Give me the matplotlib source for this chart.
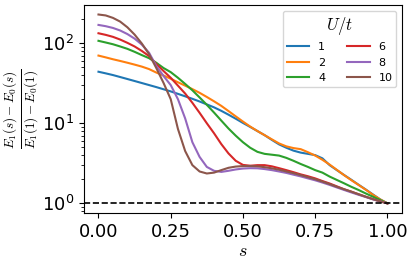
"""Normalised gap E1-E0 along the interpolation path s for several U/t."""
import matplotlib
matplotlib.use("Agg")
import matplotlib.pyplot as plt

s = [0.0, 0.025, 0.05, 0.075, 0.1, 0.125, 0.15, 0.175, 0.2, 0.225,
     0.25, 0.275, 0.3, 0.325, 0.35, 0.375, 0.4, 0.425, 0.45, 0.475,
     0.5, 0.525, 0.55, 0.575, 0.6, 0.625, 0.65, 0.675, 0.7, 0.725,
     0.75, 0.775, 0.8, 0.825, 0.85, 0.875, 0.9, 0.925, 0.95, 0.975, 1.0]

gap_u1 = [44, 42, 40, 37.8, 35.7, 33.7, 31.8, 30, 28.3, 26.6,
          25, 23.3, 21.7, 20.2, 18.7, 17.2, 15.8, 14.3, 12.8, 11.4,
          10.1, 9.0, 8.0, 7.1, 6.2, 5.45, 4.95, 4.55, 4.3, 4.15,
          4.0, 3.65, 3.0, 2.6, 2.26, 1.97, 1.71, 1.49, 1.29, 1.12, 1.0]
gap_u2 = [70, 66.5, 63, 60, 57, 54, 51, 47.5, 43, 39.5,
          36, 32.5, 29.5, 26.7, 24, 21.3, 18.8, 16.5, 14.2, 12.2,
          10.5, 9.1, 8.0, 7.1, 6.3, 5.6, 5.15, 4.9, 4.75, 4.35,
          3.95, 3.5, 3.05, 2.62, 2.25, 1.95, 1.70, 1.48, 1.28, 1.12, 1.0]
gap_u4 = [107, 102, 97, 91, 85, 78, 71, 65, 57, 49,
          43.5, 37, 31, 25.8, 21, 17, 13.6, 10.8, 8.6, 7.0,
          5.8, 4.95, 4.4, 4.15, 4.05, 3.95, 3.7, 3.4, 3.1, 2.85,
          2.6, 2.42, 2.16, 1.96, 1.78, 1.61, 1.47, 1.33, 1.21, 1.1, 1.0]
gap_u6 = [133, 127, 120, 111, 101, 91, 80, 69, 55, 45,
          37, 29.5, 23.5, 18, 13.5, 10, 7.5, 5.5, 4.2, 3.4,
          3.02, 2.95, 3.0, 3.0, 2.9, 2.75, 2.6, 2.45, 2.3, 2.18,
          2.05, 1.9, 1.77, 1.63, 1.5, 1.4, 1.3, 1.21, 1.13, 1.06, 1.0]
gap_u8 = [169, 163, 155, 144, 130, 114, 96, 76, 52, 39,
          30, 20, 11.5, 5.8, 3.8, 2.85, 2.55, 2.47, 2.55, 2.65,
          2.72, 2.75, 2.74, 2.68, 2.6, 2.5, 2.4, 2.28, 2.17, 2.05,
          1.94, 1.82, 1.7, 1.58, 1.47, 1.37, 1.28, 1.2, 1.12, 1.06, 1.0]
gap_u10 = [228, 222, 207, 186, 158, 128, 99, 73, 49, 32,
           20, 8.5, 4.5, 3.0, 2.5, 2.36, 2.42, 2.6, 2.78, 2.88,
           2.92, 2.93, 2.9, 2.83, 2.74, 2.63, 2.5, 2.38, 2.25, 2.12,
           2.0, 1.87, 1.74, 1.61, 1.5, 1.4, 1.3, 1.21, 1.13, 1.06, 1.0]

u_labels = ["1", "2", "4", "6", "8", "10"]
series = [gap_u1, gap_u2, gap_u4, gap_u6, gap_u8, gap_u10]

fig = plt.figure(figsize=(4.16, 2.67), dpi=100)
ax = fig.add_axes([0.202, 0.203, 0.764, 0.778])

for label, gap in zip(u_labels, series):
    ax.plot(s, gap, label=label, linewidth=1.5)

ax.axhline(1.0, color="black", linestyle="--", linewidth=1.2)
ax.set_yscale("log")

ax.tick_params(axis="both", labelsize=13)
ax.set_xticks([0.0, 0.25, 0.5, 0.75, 1.0])
ax.set_xticklabels(["0.00", "0.25", "0.50", "0.75", "1.00"])

ax.set_xlabel("$s$", fontsize=13, math_fontfamily="cm", labelpad=1)
ax.set_ylabel(r"$\frac{E_1(s)-E_0(s)}{E_1(1)-E_0(1)}$", fontsize=13.5,
              math_fontfamily="cm", labelpad=1)

leg = ax.legend(title="$U/t$", ncol=2, fontsize=8, title_fontsize=12,
                loc="upper right", borderpad=0.35)
leg.get_title().set_math_fontfamily("cm")

fig.savefig("out.png", dpi=100)
plt.close(fig)
